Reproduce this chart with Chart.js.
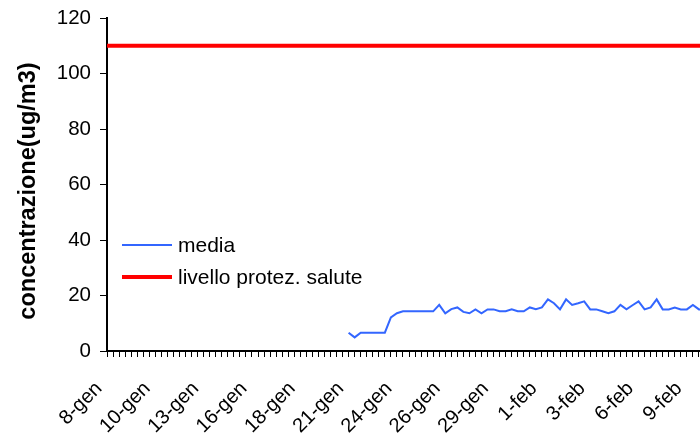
<!DOCTYPE html>
<html>
<head>
<meta charset="utf-8">
<script src="https://cdn.jsdelivr.net/npm/chart.js@4/dist/chart.umd.min.js"></script>
<style>
    html, body { margin: 0; padding: 0; background: #fff; overflow: hidden; }
    canvas { display: block; }
</style>
</head>
<body>
<canvas id="graficoMedia" width="748" height="436"></canvas>
<script>
// one tick label every 8 slots (slots are 8-hour averages)
const tickLabels = [
    "8-gen", "10-gen", "13-gen", "16-gen", "18-gen", "21-gen", "24-gen",
    "26-gen", "29-gen", "1-feb", "3-feb", "6-feb", "9-feb"
];
const slotsPerLabel = 8;
const totalSlots = 101;

// media: first value at slot 40
const mediaStart = 40;
const mediaValues = [
    6.6, 4.9, 6.6, 6.6, 6.6, 6.6, 6.6, 12.1, 13.6, 14.3,
    14.3, 14.3, 14.3, 14.3, 14.3, 16.6, 13.6, 15.1, 15.7, 14.1,
    13.6, 15.0, 13.6, 15.0, 15.0, 14.3, 14.3, 15.0, 14.3, 14.3,
    15.7, 15.1, 15.7, 18.6, 17.2, 15.0, 18.6, 16.6, 17.2, 17.9,
    15.0, 15.0, 14.3, 13.6, 14.3, 16.6, 15.0, 16.5, 17.9, 15.0,
    15.7, 18.6, 15.0, 15.0, 15.7, 15.0, 15.0, 16.6, 15.0, 15.0
];
const livelloSalute = 110;

const categorie = [];
for (let i = 0; i < totalSlots; i++) {
    categorie.push(i % slotsPerLabel === 0 && tickLabels[i / slotsPerLabel] ? tickLabels[i / slotsPerLabel] : '');
}

const serieMedia = categorie.map((_, i) => {
    const v = mediaValues[i - mediaStart];
    return v === undefined ? null : v;
});
const serieLivello = categorie.map(() => livelloSalute);

const FONT = "'Liberation Sans', Arial, sans-serif";

// legend drawn inside the plot, like the original
const legendaInterna = {
    id: 'legendaInterna',
    afterDraw(chart) {
        const ctx = chart.ctx;
        const rows = [{ ds: chart.data.datasets[0], y: 245 }, { ds: chart.data.datasets[1], y: 277 }];
        ctx.save();
        rows.forEach(r => {
            ctx.strokeStyle = r.ds.borderColor;
            ctx.lineWidth = r.ds.borderWidth;
            ctx.beginPath();
            ctx.moveTo(122, r.y);
            ctx.lineTo(172, r.y);
            ctx.stroke();
            ctx.fillStyle = '#000';
            ctx.font = '21px ' + FONT;
            ctx.textBaseline = 'middle';
            ctx.textAlign = 'left';
            ctx.fillText(r.ds.label, 178, r.y + 1);
        });
        ctx.restore();
    }
};

const ctx = document.getElementById('graficoMedia').getContext('2d');
new Chart(ctx, {
    type: 'line',
    data: {
        labels: categorie,
        datasets: [
            {
                label: 'media',
                data: serieMedia,
                borderColor: '#3366ff',
                borderWidth: 2,
                pointRadius: 0,
                tension: 0,
                spanGaps: false
            },
            {
                label: 'livello protez. salute',
                data: serieLivello,
                borderColor: '#ff0000',
                borderWidth: 4,
                pointRadius: 0,
                tension: 0
            }
        ]
    },
    options: {
        responsive: false,
        animation: false,
        layout: {
            padding: { top: 18, right: 5, left: 0, bottom: 0 }
        },
        plugins: {
            legend: { display: false },
            tooltip: { enabled: false }
        },
        scales: {
            x: {
                offset: false,
                border: { display: true, color: '#000', width: 2 },
                grid: {
                    drawOnChartArea: false,
                    drawTicks: true,
                    tickLength: 6,
                    tickColor: '#000',
                    lineWidth: 1
                },
                ticks: {
                    autoSkip: false,
                    maxRotation: 45,
                    minRotation: 45,
                    color: '#000',
                    padding: 20,
                    labelOffset: -8,
                    font: { family: FONT, size: 20 }
                },
                afterFit(scale) {
                    scale.height = 85;
                }
            },
            y: {
                min: 0,
                max: 120,
                border: { display: true, color: '#000', width: 2 },
                grid: {
                    drawOnChartArea: false,
                    drawTicks: true,
                    tickLength: 7,
                    tickColor: '#000'
                },
                ticks: {
                    stepSize: 20,
                    color: '#000',
                    padding: 9,
                    font: { family: FONT, size: 20.5 }
                },
                title: {
                    display: true,
                    text: 'concentrazione(ug/m3)  ',
                    color: '#000',
                    padding: { top: 14, bottom: 4 },
                    font: { family: FONT, size: 23.5, weight: 'bold' }
                },
                afterFit(scale) {
                    scale.width = 107;
                    // keep the plot top where the layout padding puts it
                    scale.paddingTop = 10;
                }
            }
        }
    },
    plugins: [legendaInterna]
});
</script>
</body>
</html>
